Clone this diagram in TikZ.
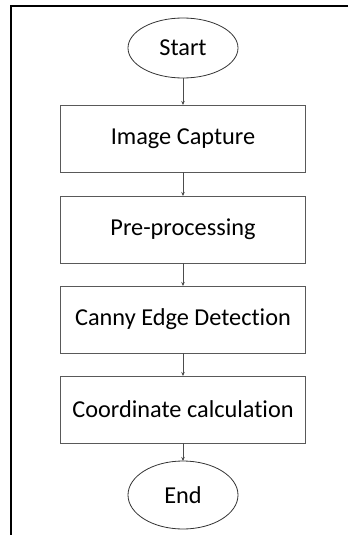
\documentclass[tikz,border=0pt]{standalone}
\usepackage{fontspec}
\setmainfont{Carlito}[Ligatures=NoCommon]
\usetikzlibrary{shapes.geometric,arrows.meta,positioning}

\begin{document}
\begin{tikzpicture}[x=1pt, y=1pt,
    stepbox/.style={rectangle, draw=black!65, line width=1pt, minimum width=245pt, minimum height=67pt, inner sep=0pt, outer sep=0pt, font=\fontsize{24.3}{28}\selectfont},
    terminal/.style={ellipse, draw=black!80, line width=0.8pt, minimum width=110pt, inner sep=0pt, outer sep=0pt, font=\fontsize{24.3}{28}\selectfont},
    flow/.style={-{Stealth[length=4pt, width=3.5pt]}, draw=black!70, line width=1pt}]
    \useasboundingbox (0,0) rectangle (348,-535);

    % Frame
    \draw [line width=2pt] (348,-6.5) -- (11,-6.5) -- (11,-535);

    % Nodes
    \node [terminal, minimum height=60pt] (start) at (183,-48) {Start};
    \node [stepbox, below=27pt of start] (capture) {Image Capture};
    \node [stepbox, below=24pt of capture] (preproc) {Pre-processing};
    \node [stepbox, below=23pt of preproc] (canny) {Canny Edge Detection};
    \node [stepbox, below=23pt of canny] (coords) {Coordinate calculation};
    \node [terminal, minimum height=68pt, below=18pt of coords] (end) {End};

    % Path
    \draw [flow] (start) -- (capture);
    \draw [flow] (capture) -- (preproc);
    \draw [flow] (preproc) -- (canny);
    \draw [flow] (canny) -- (coords);
    \draw [flow] (coords) -- (end);
\end{tikzpicture}
\end{document}
